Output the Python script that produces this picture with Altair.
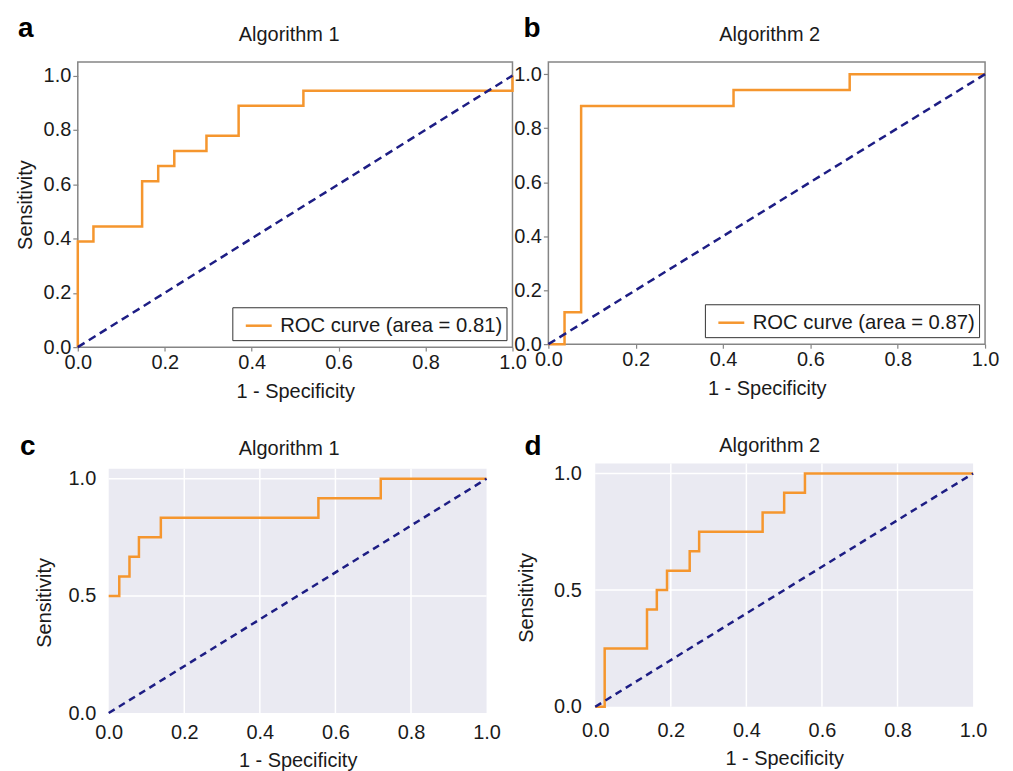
import altair as alt
import pandas as pd

FONT = "Liberation Sans"
ORANGE = "#F5962E"
NAVY = "#1D1D84"
FRAME = "#858585"
BG = "#EAEAF2"
TEXT = "#1a1a1a"

PANEL_LABELS = ["a", "b", "c", "d"]
PANEL_TITLES = ["Algorithm 1", "Algorithm 2", "Algorithm 1", "Algorithm 2"]
LEGEND_A = "ROC curve (area = 0.81)"
LEGEND_B = "ROC curve (area = 0.87)"
X_TITLE = "1 - Specificity"
Y_TITLE = "Sensitivity"

# panel a (Algorithm 1, boxed style)
FPR_A = [0.0, 0.0, 0.036, 0.036, 0.148, 0.148, 0.185, 0.185, 0.222, 0.222,
         0.296, 0.296, 0.370, 0.370, 0.519, 0.519, 1.0, 1.0]
TPR_A = [0.0, 0.389, 0.389, 0.444, 0.444, 0.611, 0.611, 0.667, 0.667, 0.722,
         0.722, 0.778, 0.778, 0.889, 0.889, 0.944, 0.944, 1.0]
# panel b (Algorithm 2, boxed style)
FPR_B = [0.0, 0.037, 0.037, 0.075, 0.075, 0.424, 0.424, 0.690, 0.690, 1.0]
TPR_B = [0.0, 0.0, 0.118, 0.118, 0.882, 0.882, 0.941, 0.941, 1.0, 1.0]
# panel c (Algorithm 1, grey style)
FPR_C = [0.0, 0.028, 0.028, 0.055, 0.055, 0.080, 0.080, 0.138, 0.138,
         0.555, 0.555, 0.720, 0.720, 1.0]
TPR_C = [0.5, 0.5, 0.583, 0.583, 0.667, 0.667, 0.75, 0.75, 0.833,
         0.833, 0.917, 0.917, 1.0, 1.0]
# panel d (Algorithm 2, grey style)
FPR_D = [0.0, 0.025, 0.025, 0.137, 0.137, 0.163, 0.163, 0.190, 0.190, 0.250,
         0.250, 0.275, 0.275, 0.443, 0.443, 0.500, 0.500, 0.555, 0.555, 1.0]
TPR_D = [0.0, 0.0, 0.25, 0.25, 0.417, 0.417, 0.5, 0.5, 0.583, 0.583,
         0.667, 0.667, 0.75, 0.75, 0.833, 0.833, 0.917, 0.917, 1.0, 1.0]

DIAG = [0.0, 1.0]
TICKS_FINE = [0.0, 0.2, 0.4, 0.6, 0.8, 1.0]
TICKS_COARSE = [0.0, 0.5, 1.0]
GRID_X = [0.2, 0.4, 0.6, 0.8]
GRID_Y = [0.5, 1.0]
BG_X = [0.0, 1.0]
BG_Y = [0.0, 1.043]


def curve_df(fpr, tpr, series=""):
    return pd.DataFrame({"fpr": fpr, "tpr": tpr,
                         "order": list(range(len(fpr))),
                         "series": [series] * len(fpr)})


def letter_layer(letter, lx, ly):
    return alt.Chart(pd.DataFrame({"t": [letter]})).mark_text(
        align="left", baseline="alphabetic", fontSize=28, fontWeight="bold",
        font=FONT, color="black").encode(
        text="t:N", x=alt.value(lx), y=alt.value(ly))


def boxed_panel(fpr, tpr, legend_label, letter, title, width, height, ymax,
                y_title, title_dx, title_dy, lx, ly, leg_x, leg_y):
    xs = alt.Scale(domain=[0, 1], nice=False, zero=False)
    ys = alt.Scale(domain=[0, ymax], nice=False, zero=False)
    common = dict(format=".1f", grid=False, domain=False, ticks=True,
                  tickColor=FRAME, tickWidth=1.2, labelFlush=False,
                  labelOverlap=False, labelFontSize=20, titleFontSize=20,
                  titleFontWeight="normal", labelColor=TEXT, titleColor=TEXT,
                  labelFont=FONT, titleFont=FONT)
    xax = alt.Axis(title=X_TITLE, values=TICKS_FINE, tickSize=4, labelPadding=1,
                   titlePadding=10, **common)
    yax = alt.Axis(title=y_title, values=TICKS_FINE, tickSize=5, labelPadding=2,
                   titlePadding=8, **common)
    X = alt.X("fpr:Q", scale=xs, axis=xax)
    Y = alt.Y("tpr:Q", scale=ys, axis=yax)
    roc = alt.Chart(curve_df(fpr, tpr, legend_label)).mark_line(
        strokeWidth=2.5).encode(
        x=X, y=Y, order="order:Q",
        color=alt.Color("series:N",
                        scale=alt.Scale(domain=[legend_label], range=[ORANGE]),
                        legend=alt.Legend(
                            title=None, orient="none", legendX=leg_x, legendY=leg_y,
                            symbolType="stroke", symbolStrokeWidth=2.5,
                            symbolSize=676, labelFontSize=20.3, labelFont=FONT,
                            labelColor=TEXT, padding=4, fillColor="white",
                            strokeColor="#333333", symbolOffset=8, labelOffset=7,
                            labelLimit=400, cornerRadius=0)))
    diag = alt.Chart(curve_df(DIAG, DIAG)).mark_line(
        color=NAVY, strokeWidth=2.5, strokeDash=[8, 5]).encode(x=X, y=Y)
    return alt.layer(roc, diag, letter_layer(letter, lx, ly)).properties(
        width=width, height=height,
        title=alt.TitleParams(title, fontSize=20, font=FONT, fontWeight="normal",
                              color=TEXT, anchor="middle", offset=0,
                              dx=title_dx, dy=title_dy),
        view=alt.ViewBackground(stroke=FRAME, strokeWidth=1.5, fill="white"))


def grey_panel(fpr, tpr, letter, title, width, height, x_range, y_range,
               y_offset, title_dx, title_dy, lx, ly, ylab_pad, ytitle_pad,
               ytitle_y, xlab_pad, xtitle_pad):
    xs = alt.Scale(domain=[0, 1], range=x_range, nice=False, zero=False)
    ys = alt.Scale(domain=[0, 1], range=y_range, nice=False, zero=False)
    common = dict(format=".1f", grid=False, domain=False, ticks=False,
                  labelFlush=False, labelOverlap=False, labelFontSize=20,
                  titleFontSize=20, titleFontWeight="normal", labelColor=TEXT,
                  titleColor=TEXT, labelFont=FONT, titleFont=FONT)
    xax = alt.Axis(title=X_TITLE, values=TICKS_FINE, labelPadding=xlab_pad,
                   titlePadding=xtitle_pad, **common)
    yax = alt.Axis(title=Y_TITLE, values=TICKS_COARSE, labelPadding=ylab_pad,
                   titlePadding=ytitle_pad, offset=y_offset, titleY=ytitle_y,
                   **common)
    X = alt.X("fpr:Q", scale=xs, axis=xax)
    Y = alt.Y("tpr:Q", scale=ys, axis=yax)
    bg = alt.Chart(pd.DataFrame({"fpr": [BG_X[0]], "fpr2": [BG_X[1]],
                                 "tpr": [BG_Y[0]], "tpr2": [BG_Y[1]]})).mark_rect(
        color=BG).encode(x=X, x2="fpr2:Q", y=Y, y2="tpr2:Q")
    gx = alt.Chart(pd.DataFrame({"fpr": GRID_X, "tpr": [BG_Y[0]] * len(GRID_X),
                                 "tpr2": [BG_Y[1]] * len(GRID_X)})).mark_rule(
        color="white", strokeWidth=1.5).encode(x=X, y=Y, y2="tpr2:Q")
    gy = alt.Chart(pd.DataFrame({"tpr": GRID_Y, "fpr": [BG_X[0]] * len(GRID_Y),
                                 "fpr2": [BG_X[1]] * len(GRID_Y)})).mark_rule(
        color="white", strokeWidth=1.5).encode(x=X, x2="fpr2:Q", y=Y)
    roc = alt.Chart(curve_df(fpr, tpr)).mark_line(
        strokeWidth=2.5, color=ORANGE).encode(x=X, y=Y, order="order:Q")
    diag = alt.Chart(curve_df(DIAG, DIAG)).mark_line(
        color=NAVY, strokeWidth=2.5, strokeDash=[7, 5]).encode(x=X, y=Y)
    return alt.layer(bg, gx, gy, roc, diag, letter_layer(letter, lx, ly)).properties(
        width=width, height=height,
        title=alt.TitleParams(title, fontSize=20, font=FONT, fontWeight="normal",
                              color=TEXT, anchor="middle", offset=0,
                              dx=title_dx, dy=title_dy),
        view=alt.ViewBackground(strokeWidth=0, fill="white"))


pa = boxed_panel(FPR_A, TPR_A, LEGEND_A, PANEL_LABELS[0], PANEL_TITLES[0],
                 436, 286, 1.05, Y_TITLE, -6, 30, -60, -25, 155, 246)
pb = boxed_panel(FPR_B, TPR_B, LEGEND_B, PANEL_LABELS[1], PANEL_TITLES[1],
                 438, 283, 1.045, None, 3, 30, -25, -25, 157, 243)
pc = grey_panel(FPR_C, TPR_C, PANEL_LABELS[2], PANEL_TITLES[2], 438, 250,
                [31, 410], [250, 15], -31, -7, 26, -58, -9, 13, 14, 139, 10, 8)
pd_ = grey_panel(FPR_D, TPR_D, PANEL_LABELS[3], PANEL_TITLES[3], 438, 250,
                 [47, 426], [243.7, 9.7], -47, 3, 23, -24, -9, 14, 17, 134, 8, 8)

chart = alt.concat(pa, pb, pc, pd_, columns=2, bounds="flush",
                   spacing={"row": 117, "column": 34}).resolve_scale(
    x="independent", y="independent", color="independent").properties(
    padding={"left": 6, "top": 5, "right": 5, "bottom": 5}).configure(
    font=FONT).configure_view(strokeWidth=0)

chart.save("out.html", embed_options={"renderer": "svg", "actions": False})
